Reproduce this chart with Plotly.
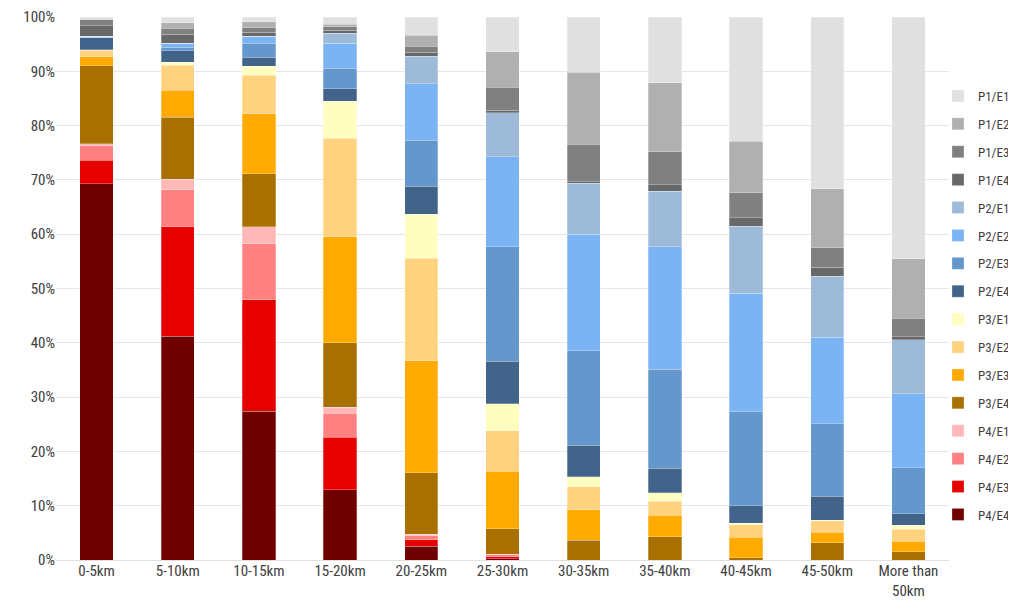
import plotly.graph_objects as go

categories = ["0-5km", "5-10km", "10-15km", "15-20km", "20-25km", "25-30km",
              "30-35km", "35-40km", "40-45km", "45-50km", "More than<br>50km"]

# series listed bottom of stack first
p4_e4 = [69.3, 41.2, 27.4, 12.9, 2.5, 0.2, 0, 0, 0, 0, 0]
p4_e3 = [4.3, 20.2, 20.5, 9.7, 1.2, 0.4, 0, 0, 0, 0, 0]
p4_e2 = [2.7, 6.8, 10.3, 4.4, 0.8, 0.5, 0, 0, 0, 0, 0]
p4_e1 = [0.4, 1.9, 3.2, 1.1, 0.2, 0, 0, 0, 0, 0, 0]
p3_e4 = [14.3, 11.4, 9.7, 11.9, 11.4, 4.7, 3.6, 4.3, 0.4, 3.2, 1.5]
p3_e3 = [1.7, 5.0, 11.1, 19.5, 20.6, 10.5, 5.7, 3.9, 3.8, 1.9, 2.0]
p3_e2 = [1.2, 4.6, 7.1, 18.2, 18.9, 7.5, 4.2, 2.6, 2.3, 2.1, 2.2]
p3_e1 = [0.1, 0.6, 1.6, 6.8, 8.1, 5.0, 1.8, 1.6, 0.3, 0.1, 0.7]
p2_e4 = [2.2, 2.1, 1.7, 2.3, 5.1, 7.8, 5.8, 4.5, 3.2, 4.4, 2.1]
p2_e3 = [0.1, 0.6, 2.6, 3.8, 8.5, 21.1, 17.4, 18.2, 17.4, 13.4, 8.5]
p2_e2 = [0.2, 0.7, 1.2, 4.6, 10.4, 16.6, 21.5, 22.6, 21.7, 15.9, 13.6]
p2_e1 = [0, 0.1, 0.1, 1.8, 5.1, 8.1, 9.4, 10.2, 12.4, 11.3, 10.0]
p1_e4 = [1.9, 1.6, 0.7, 0.6, 0.7, 0.4, 0.3, 1.2, 1.5, 1.6, 0.5]
p1_e3 = [1.1, 1.1, 0.8, 0.6, 1.1, 4.3, 6.9, 6.1, 4.6, 3.6, 3.4]
p1_e2 = [0.1, 1.0, 1.1, 0.5, 2.0, 6.5, 13.2, 12.7, 9.5, 10.9, 11.0]
p1_e1 = [0.4, 1.1, 0.9, 1.3, 3.4, 6.4, 10.2, 12.1, 22.9, 31.6, 44.5]

series_names = ["P4/E4", "P4/E3", "P4/E2", "P4/E1",
                "P3/E4", "P3/E3", "P3/E2", "P3/E1",
                "P2/E4", "P2/E3", "P2/E2", "P2/E1",
                "P1/E4", "P1/E3", "P1/E2", "P1/E1"]
series_values = [p4_e4, p4_e3, p4_e2, p4_e1,
                 p3_e4, p3_e3, p3_e2, p3_e1,
                 p2_e4, p2_e3, p2_e2, p2_e1,
                 p1_e4, p1_e3, p1_e2, p1_e1]
series_colors = ["#700000", "#E60000", "#FF8080", "#FFB8B8",
                 "#A87000", "#FFAA00", "#FFD280", "#FFFDC0",
                 "#42648A", "#6497CC", "#7AB4F5", "#9DBAD8",
                 "#686868", "#808080", "#B0B0B0", "#E0E0E0"]

FONT = ("Agency FB, Roboto Condensed, Noto Sans Condensed, Liberation Sans Narrow, "
        "DejaVu Sans Condensed, Open Sans Condensed, Roboto, sans-serif")

n = len(series_names)
fig = go.Figure()
for i, (name, vals, col) in enumerate(zip(series_names, series_values, series_colors)):
    fig.add_trace(go.Bar(
        x=categories, y=vals, name=name, legendgroup=name,
        legendrank=n - i,
        marker=dict(color=col, line=dict(color="rgba(255,255,255,0.45)", width=0.6)),
    ))

# figure sized so that, with the page's body margin, it fits the window without scrollbars
fig.update_layout(
    barmode="stack",
    bargap=0.59,
    width=1008, height=590,
    margin=dict(l=48, r=67, t=9, b=38, autoexpand=False),
    plot_bgcolor="white", paper_bgcolor="white",
    font=dict(family=FONT, size=15, color="#404040"),
    legend=dict(
        traceorder="grouped",
        xref="container", yref="container",
        x=0.9226, xanchor="left", y=0.8763, yanchor="top",
        maxheight=0.95,
        font=dict(family=FONT, size=13, color="#404040"),
        tracegroupgap=8,
        itemwidth=30,
        bgcolor="rgba(0,0,0,0)",
    ),
    xaxis=dict(showgrid=False, showline=False, ticks="", automargin=False,
               tickfont=dict(family=FONT, size=15, color="#404040")),
    yaxis=dict(range=[0, 100], dtick=10, ticksuffix="%", automargin=False,
               showgrid=True, gridcolor="#E6E6E6", gridwidth=1,
               zeroline=True, zerolinecolor="#E0E0E0", zerolinewidth=1,
               showline=False, ticks="",
               tickfont=dict(family=FONT, size=15, color="#404040")),
)

fig.write_html("out.html")
